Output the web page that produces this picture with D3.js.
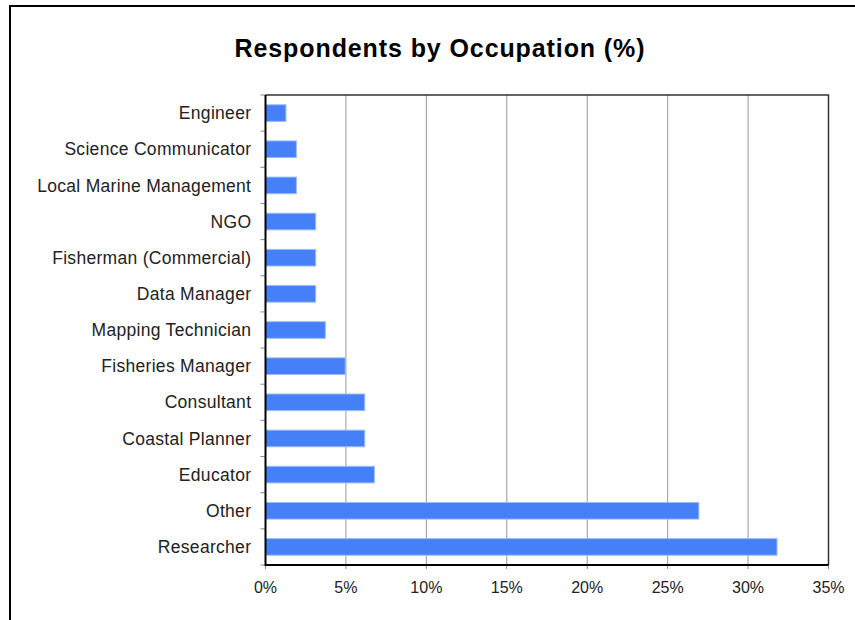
<!DOCTYPE html>
<html><head><meta charset="utf-8">
<script src="https://cdn.jsdelivr.net/npm/d3@7"></script>
<style>
html,body{margin:0;padding:0;background:#fff;}
svg{display:block;font-family:"Liberation Sans",Arial,sans-serif;}
</style></head>
<body>
<svg id="chart" width="855" height="620"></svg>
<script>
const categories = ["Engineer","Science Communicator","Local Marine Management","NGO","Fisherman (Commercial)","Data Manager","Mapping Technician","Fisheries Manager","Consultant","Coastal Planner","Educator","Other","Researcher"];
const values = [1.27,1.92,1.92,3.12,3.12,3.12,3.72,4.96,6.17,6.17,6.77,26.94,31.8];
const xTicks = [0,5,10,15,20,25,30,35];
const title = "Respondents by Occupation (%)";

const svg = d3.select("#chart");
const m = {left:265.5, right:828.5, top:95, bottom:565};

// outer frame
svg.append("rect").attr("x",10).attr("y",6).attr("width",860).attr("height",630)
  .attr("fill","none").attr("stroke","#000").attr("stroke-width",2);

svg.append("text").attr("x",440).attr("y",57).attr("text-anchor","middle")
  .attr("font-size",25).attr("font-weight","bold").attr("letter-spacing",0.9)
  .attr("fill","#000").text(title);

const x = d3.scaleLinear().domain([0,35]).range([m.left,m.right]);
const y = d3.scaleBand().domain(categories).range([m.top,m.bottom]).paddingInner(0.54).paddingOuter(0.27);
const yb = d3.scaleBand().domain(categories).range([m.top,m.bottom]);

// gridlines
svg.append("g").selectAll("line").data(xTicks.slice(1,-1)).join("line")
  .attr("x1",d=>x(d)).attr("x2",d=>x(d)).attr("y1",m.top).attr("y2",m.bottom)
  .attr("stroke","#999").attr("stroke-width",1);

// bottom ticks
svg.append("g").selectAll("line").data(xTicks).join("line")
  .attr("x1",d=>x(d)).attr("x2",d=>x(d)).attr("y1",m.bottom).attr("y2",m.bottom+4)
  .attr("stroke","#888").attr("stroke-width",1);

// left ticks at band boundaries
const bounds = categories.map(c=>yb(c)).concat([m.bottom]);
svg.append("g").selectAll("line").data(bounds).join("line")
  .attr("x1",m.left-5).attr("x2",m.left).attr("y1",d=>d).attr("y2",d=>d)
  .attr("stroke","#888").attr("stroke-width",1);

// plot frame top & right
svg.append("path").attr("d",`M${m.left},${m.top}H${m.right}V${m.bottom}`)
  .attr("fill","none").attr("stroke","#333").attr("stroke-width",1.5);

// bars
svg.append("g").selectAll("rect").data(values).join("rect")
  .attr("x",x(0)).attr("y",(d,i)=>y(categories[i]))
  .attr("width",d=>x(d)-x(0)).attr("height",y.bandwidth())
  .attr("fill","#4580f8").attr("stroke","#9dbcf7").attr("stroke-width",1);

// axes lines left & bottom
svg.append("path").attr("d",`M${m.left},${m.top}V${m.bottom}H${m.right}`)
  .attr("fill","none").attr("stroke","#000").attr("stroke-width",2);

// category labels
svg.append("g").selectAll("text").data(categories).join("text")
  .attr("x",251.3).attr("y",d=>yb(d)+yb.bandwidth()/2).attr("dy","0.35em")
  .attr("text-anchor","end").attr("font-size",17.5).attr("letter-spacing",0.3)
  .attr("fill","#222").text(d=>d);

// x tick labels
svg.append("g").selectAll("text").data(xTicks).join("text")
  .attr("x",d=>x(d)).attr("y",593).attr("text-anchor","middle")
  .attr("font-size",16).attr("fill","#222").text(d=>d+"%");
</script>
</body></html>
